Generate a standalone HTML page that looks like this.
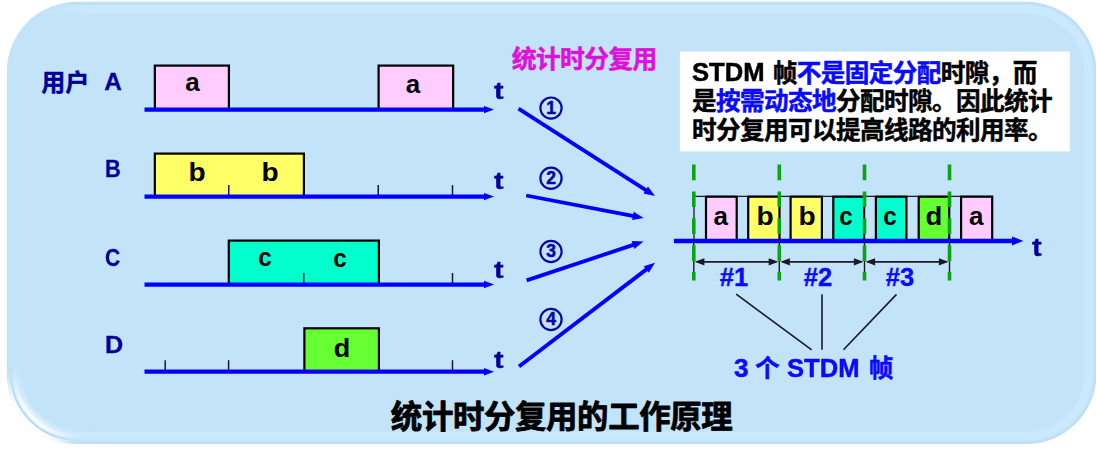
<!DOCTYPE html>
<html lang="zh"><head><meta charset="utf-8"><title>统计时分复用的工作原理</title>
<style>
html,body{margin:0;padding:0;background:#fff;}
body{width:1096px;height:464px;position:relative;overflow:hidden;font-family:"Liberation Sans",sans-serif;}
svg{position:absolute;left:0;top:0;}
svg text{font-family:"Liberation Sans","Noto Sans CJK SC",sans-serif;font-weight:bold;}
.t{position:absolute;font-weight:bold;line-height:1;white-space:pre;}
</style></head><body>
<svg width="1096" height="464" viewBox="0 0 1096 464">
<defs>
<clipPath id="pc"><rect x="6.8" y="1.8" width="1089.6000000000001" height="442.2" rx="70.0" ry="70.0" /></clipPath>
<filter id="b1" x="-5%" y="-5%" width="110%" height="110%"><feGaussianBlur stdDeviation="1.3"/></filter>
<filter id="b2" x="-5%" y="-5%" width="110%" height="110%"><feGaussianBlur stdDeviation="1.0"/></filter>
<linearGradient id="lg" x1="0" y1="0" x2="1" y2="0"><stop offset="0" stop-color="#000"/><stop offset="0.025" stop-color="#000"/><stop offset="0.09" stop-color="#fff"/><stop offset="1" stop-color="#fff"/></linearGradient>
<mask id="mband" maskUnits="userSpaceOnUse" x="0" y="0" width="1096" height="464"><rect x="0" y="0" width="1096" height="464" fill="url(#lg)"/></mask>
<radialGradient id="rg" gradientUnits="userSpaceOnUse" cx="16.8" cy="434.0" r="78"><stop offset="0" stop-color="#fff"/><stop offset="0.36" stop-color="#fff"/><stop offset="0.62" stop-color="#777"/><stop offset="0.88" stop-color="#000"/></radialGradient>
<radialGradient id="rg2" gradientUnits="userSpaceOnUse" cx="20.8" cy="430.0" r="62"><stop offset="0" stop-color="#fff"/><stop offset="0.42" stop-color="#fff"/><stop offset="0.95" stop-color="#000"/></radialGradient>
<mask id="mrim" maskUnits="userSpaceOnUse" x="0" y="0" width="1096" height="464"><rect x="0" y="0" width="200" height="464" fill="url(#rg2)"/></mask>
<filter id="b3" x="-5%" y="-5%" width="110%" height="110%"><feGaussianBlur stdDeviation="0.6"/></filter>
<mask id="mhi" maskUnits="userSpaceOnUse" x="0" y="0" width="1096" height="464"><rect x="0" y="0" width="200" height="464" fill="url(#rg)"/></mask>

</defs>

<rect x="6.8" y="1.8" width="1089.6000000000001" height="442.2" rx="70.0" ry="70.0" fill="#c2e3f8"/>
<g clip-path="url(#pc)">
<g mask="url(#mband)"><rect x="8.0" y="3.0" width="1087.2" height="439.8" rx="68.8" ry="68.8" fill="none" stroke="#a9cfee" stroke-opacity="0.22" stroke-width="3" filter="url(#b2)"/><rect x="14.399999999999999" y="9.4" width="1074.4" height="427.0" rx="62.4" ry="62.4" fill="none" stroke="#cbe9fd" stroke-width="8.6" filter="url(#b1)"/></g>
<g mask="url(#mhi)"><rect x="18.3" y="13.3" width="1066.6000000000001" height="419.2" rx="58.5" ry="58.5" fill="none" stroke="#d6eeff" stroke-width="6" filter="url(#b1)"/><rect x="11.2" y="6.2" width="1080.8" height="433.40000000000003" rx="65.6" ry="65.6" fill="none" stroke="#aed5f3" stroke-width="2.6" filter="url(#b3)"/><rect x="14.6" y="9.6" width="1074.0000000000002" height="426.59999999999997" rx="62.2" ry="62.2" fill="none" stroke="#ffffff" stroke-width="4.0" filter="url(#b2)"/></g>
<g mask="url(#mrim)"><rect x="6.8" y="1.8" width="1089.6000000000001" height="442.2" rx="70.0" ry="70.0" fill="none" stroke="#ffffff" stroke-width="6.6" filter="url(#b3)"/></g>
</g>

<rect x="679.8" y="51.6" width="390" height="99.8" fill="#ffffff"/>
<rect x="154.85" y="65.60" width="74.05" height="44.00" fill="#ffccff" stroke="#000000" stroke-width="2.2"/>
<rect x="378.60" y="65.60" width="74.55" height="44.00" fill="#ffccff" stroke="#000000" stroke-width="2.2"/>
<rect x="154.85" y="153.60" width="149.05" height="43.00" fill="#ffff66" stroke="#000000" stroke-width="2.2"/>
<rect x="228.80" y="240.60" width="150.10" height="43.95" fill="#00ffcc" stroke="#000000" stroke-width="2.2"/>
<rect x="304.40" y="328.30" width="74.50" height="43.40" fill="#66ff33" stroke="#000000" stroke-width="2.2"/>
<line x1="228.75" y1="185.1" x2="228.75" y2="196.6" stroke="#1a1a26" stroke-width="1.5"/>
<line x1="378.25" y1="185.1" x2="378.25" y2="196.6" stroke="#1a1a26" stroke-width="1.5"/>
<line x1="452.5" y1="185.1" x2="452.5" y2="196.6" stroke="#1a1a26" stroke-width="1.5"/>
<line x1="303.75" y1="273.05" x2="303.75" y2="284.55" stroke="#1a1a26" stroke-width="1.5"/>
<line x1="452.5" y1="273.05" x2="452.5" y2="284.55" stroke="#1a1a26" stroke-width="1.5"/>
<line x1="165.2" y1="360.2" x2="165.2" y2="371.7" stroke="#1a1a26" stroke-width="1.5"/>
<line x1="228.6" y1="360.2" x2="228.6" y2="371.7" stroke="#1a1a26" stroke-width="1.5"/>
<line x1="452.5" y1="360.2" x2="452.5" y2="371.7" stroke="#1a1a26" stroke-width="1.5"/>
<line x1="144.5" y1="109.6" x2="485.0" y2="109.6" stroke="#0000ff" stroke-width="4.3"/>
<polygon points="484.0,105.89999999999999 494.0,109.6 484.0,113.3" fill="#0000ff"/>
<line x1="144.5" y1="196.6" x2="485.0" y2="196.6" stroke="#0000ff" stroke-width="4.3"/>
<polygon points="484.0,192.9 494.0,196.6 484.0,200.29999999999998" fill="#0000ff"/>
<line x1="144.5" y1="284.55" x2="485.0" y2="284.55" stroke="#0000ff" stroke-width="4.3"/>
<polygon points="484.0,280.85 494.0,284.55 484.0,288.25" fill="#0000ff"/>
<line x1="144.5" y1="371.7" x2="485.0" y2="371.7" stroke="#0000ff" stroke-width="4.3"/>
<polygon points="484.0,368.0 494.0,371.7 484.0,375.4" fill="#0000ff"/>
<line x1="518.50" y1="108.70" x2="646.58" y2="190.61" stroke="#0000ff" stroke-width="3.8"/>
<polygon points="643.47,193.61 655.00,196.00 648.00,186.54" fill="#0000ff"/>
<line x1="526.20" y1="195.50" x2="633.88" y2="216.12" stroke="#0000ff" stroke-width="3.8"/>
<polygon points="632.11,220.06 643.70,218.00 633.69,211.81" fill="#0000ff"/>
<line x1="526.60" y1="280.40" x2="634.01" y2="244.66" stroke="#0000ff" stroke-width="3.8"/>
<polygon points="634.39,248.96 643.50,241.50 631.74,240.99" fill="#0000ff"/>
<line x1="519.00" y1="366.60" x2="647.05" y2="268.87" stroke="#0000ff" stroke-width="3.8"/>
<polygon points="648.80,272.81 655.00,262.80 643.71,266.14" fill="#0000ff"/>
<circle cx="551" cy="108.1" r="10.6" fill="none" stroke="#0808a2" stroke-width="2.2"/>
<circle cx="551" cy="178.3" r="10.6" fill="none" stroke="#0808a2" stroke-width="2.2"/>
<circle cx="551" cy="251.5" r="10.6" fill="none" stroke="#0808a2" stroke-width="2.2"/>
<circle cx="551" cy="319.5" r="10.6" fill="none" stroke="#0808a2" stroke-width="2.2"/>
<path d="M694 240.9 V196.4 H993" fill="none" stroke="#1a1a26" stroke-width="1.3"/>
<rect x="706.00" y="196.70" width="30.70" height="44.20" fill="#ffccff" stroke="#000000" stroke-width="2.2"/>
<rect x="748.20" y="196.70" width="31.30" height="44.20" fill="#ffff66" stroke="#000000" stroke-width="2.2"/>
<rect x="790.60" y="196.70" width="31.30" height="44.20" fill="#ffff66" stroke="#000000" stroke-width="2.2"/>
<rect x="833.30" y="196.70" width="30.80" height="44.20" fill="#00ffcc" stroke="#000000" stroke-width="2.2"/>
<rect x="875.90" y="196.70" width="30.50" height="44.20" fill="#00ffcc" stroke="#000000" stroke-width="2.2"/>
<rect x="918.70" y="196.70" width="30.50" height="44.20" fill="#66ff33" stroke="#000000" stroke-width="2.2"/>
<rect x="961.10" y="196.70" width="31.10" height="44.20" fill="#ffccff" stroke="#000000" stroke-width="2.2"/>
<line x1="673.9" y1="240.9" x2="1013.0" y2="240.9" stroke="#0000ff" stroke-width="4.5"/>
<polygon points="1012.0,236.4 1023.5,240.9 1012.0,245.4" fill="#0000ff"/>
<line x1="693.8" y1="240.9" x2="693.8" y2="273" stroke="#1a1a26" stroke-width="1.4"/>
<line x1="779.3" y1="240.9" x2="779.3" y2="273" stroke="#1a1a26" stroke-width="1.4"/>
<line x1="864.5" y1="240.9" x2="864.5" y2="273" stroke="#1a1a26" stroke-width="1.4"/>
<line x1="949.5" y1="240.9" x2="949.5" y2="273" stroke="#1a1a26" stroke-width="1.4"/>
<line x1="696.8" y1="261.8" x2="776.3" y2="261.8" stroke="#1a1a26" stroke-width="1.7"/>
<polygon points="694.8,261.8 704.4,258.2 704.4,265.40000000000003" fill="#1a1a26"/>
<polygon points="778.3,261.8 768.6999999999999,258.2 768.6999999999999,265.40000000000003" fill="#1a1a26"/>
<line x1="782.3" y1="261.8" x2="861.5" y2="261.8" stroke="#1a1a26" stroke-width="1.7"/>
<polygon points="780.3,261.8 789.9,258.2 789.9,265.40000000000003" fill="#1a1a26"/>
<polygon points="863.5,261.8 853.9,258.2 853.9,265.40000000000003" fill="#1a1a26"/>
<line x1="867.5" y1="261.8" x2="946.5" y2="261.8" stroke="#1a1a26" stroke-width="1.7"/>
<polygon points="865.5,261.8 875.1,258.2 875.1,265.40000000000003" fill="#1a1a26"/>
<polygon points="948.5,261.8 938.9,258.2 938.9,265.40000000000003" fill="#1a1a26"/>
<line x1="693.8" y1="164.5" x2="693.8" y2="280.4" stroke="#0aa514" stroke-width="3.6" stroke-dasharray="15.7 11.2"/>
<line x1="779.3" y1="164.5" x2="779.3" y2="280.4" stroke="#0aa514" stroke-width="3.6" stroke-dasharray="15.7 11.2"/>
<line x1="864.5" y1="164.5" x2="864.5" y2="280.4" stroke="#0aa514" stroke-width="3.6" stroke-dasharray="15.7 11.2"/>
<line x1="949.5" y1="164.5" x2="949.5" y2="280.4" stroke="#0aa514" stroke-width="3.6" stroke-dasharray="15.7 11.2"/>
<line x1="736.2" y1="294.2" x2="811.7" y2="349.8" stroke="#1a1a26" stroke-width="1.6"/>
<line x1="822" y1="294.2" x2="822" y2="349.8" stroke="#1a1a26" stroke-width="1.6"/>
<line x1="896.5" y1="294.4" x2="843.5" y2="349.8" stroke="#1a1a26" stroke-width="1.6"/>
<text x="755.0" y="376.6" font-size="24.6" fill="#0a0aff" stroke="#0a0aff" stroke-width="0.5" stroke-linejoin="round">个</text>
<text x="868.7" y="376.6" font-size="24.6" fill="#0a0aff" stroke="#0a0aff" stroke-width="0.5" stroke-linejoin="round">帧</text>
<text x="772.8" y="81.6" font-size="24.6" fill="#000000" stroke="#000000" stroke-width="0.5" stroke-linejoin="round">帧</text>
<text x="796.8 820.8 844.8 868.8 892.8 916.8" y="81.6" font-size="24.6" fill="#0a0aff" stroke="#0a0aff" stroke-width="0.5" stroke-linejoin="round">不是固定分配</text>
<text x="940.8 964.8 988.8 1012.8" y="81.6" font-size="24.6" fill="#000000" stroke="#000000" stroke-width="0.5" stroke-linejoin="round">时隙，而</text>
<text x="692.1" y="110.4" font-size="24.6" fill="#000000" stroke="#000000" stroke-width="0.5" stroke-linejoin="round">是</text>
<text x="716.1 740.1 764.1 788.1 812.1" y="110.4" font-size="24.6" fill="#0a0aff" stroke="#0a0aff" stroke-width="0.5" stroke-linejoin="round">按需动态地</text>
<text x="836.1 860.1 884.1 908.1 932.1 956.1 980.1 1004.1 1028.1" y="110.4" font-size="24.6" fill="#000000" stroke="#000000" stroke-width="0.5" stroke-linejoin="round">分配时隙。因此统计</text>
<text x="692.1 716.1 740.1 764.1 788.1 812.1 836.1 860.1 884.1 908.1 932.1 956.1 980.1 1004.1 1028.1" y="139.4" font-size="24.6" fill="#000000" stroke="#000000" stroke-width="0.5" stroke-linejoin="round">时分复用可以提高线路的利用率。</text>
<text x="41.13 65.33" y="90.6" font-size="24" fill="#000099" stroke="#000099" stroke-width="0.5" stroke-linejoin="round">用户</text>
<text x="511.86 535.98 560.10 584.22 608.34 632.46" y="68.2" font-size="24.8" fill="#e010dc" stroke="#e010dc" stroke-width="0.5" stroke-linejoin="round">统计时分复用</text>
<text x="390.82 421.88 452.93 483.98 515.03 546.08 577.12 608.17 639.22 670.27 701.32" y="428" font-size="31.4" fill="#000000" stroke="#000000" stroke-width="0.8" stroke-linejoin="round">统计时分复用的工作原理</text>
</svg>
<span class="t" style="left:551.00px;top:99.59px;font-size:17.5px;color:#0808a2;transform:translateX(-50%);transform-origin:center center;-webkit-text-stroke:0.5px #0808a2;">1</span>
<span class="t" style="left:551.00px;top:169.79px;font-size:17.5px;color:#0808a2;transform:translateX(-50%);transform-origin:center center;-webkit-text-stroke:0.5px #0808a2;">2</span>
<span class="t" style="left:551.00px;top:242.99px;font-size:17.5px;color:#0808a2;transform:translateX(-50%);transform-origin:center center;-webkit-text-stroke:0.5px #0808a2;">3</span>
<span class="t" style="left:551.00px;top:310.99px;font-size:17.5px;color:#0808a2;transform:translateX(-50%);transform-origin:center center;-webkit-text-stroke:0.5px #0808a2;">4</span>
<span class="t" style="left:720.65px;top:203.49px;font-size:26px;color:#000000;transform:translateX(-50%);transform-origin:center center;">a</span>
<span class="t" style="left:765.45px;top:203.49px;font-size:26px;color:#000000;transform:translateX(-50%) scaleX(1.08);transform-origin:center center;">b</span>
<span class="t" style="left:806.85px;top:203.49px;font-size:26px;color:#000000;transform:translateX(-50%) scaleX(1.08);transform-origin:center center;">b</span>
<span class="t" style="left:846.10px;top:203.49px;font-size:26px;color:#000000;transform:translateX(-50%) scaleX(0.93);transform-origin:center center;">c</span>
<span class="t" style="left:890.35px;top:203.49px;font-size:26px;color:#000000;transform:translateX(-50%) scaleX(0.93);transform-origin:center center;">c</span>
<span class="t" style="left:933.55px;top:203.49px;font-size:26px;color:#000000;transform:translateX(-50%) scaleX(1.06);transform-origin:center center;">d</span>
<span class="t" style="left:976.15px;top:203.49px;font-size:26px;color:#000000;transform:translateX(-50%);transform-origin:center center;">a</span>
<span class="t" style="left:733.80px;top:265.24px;font-size:25px;color:#0a0aff;transform:translateX(-50%) scaleX(1.02);transform-origin:center center;-webkit-text-stroke:0.4px #0a0aff;">#1</span>
<span class="t" style="left:817.60px;top:265.24px;font-size:25px;color:#0a0aff;transform:translateX(-50%) scaleX(1.02);transform-origin:center center;-webkit-text-stroke:0.4px #0a0aff;">#2</span>
<span class="t" style="left:900.00px;top:265.24px;font-size:25px;color:#0a0aff;transform:translateX(-50%) scaleX(1.02);transform-origin:center center;-webkit-text-stroke:0.4px #0a0aff;">#3</span>
<span class="t" style="left:734.00px;top:355.19px;font-size:26px;color:#0a0aff;-webkit-text-stroke:0.5px #0a0aff;">3</span>
<span class="t" style="left:787.20px;top:355.19px;font-size:26px;color:#0a0aff;transform:scaleX(0.985);transform-origin:left center;-webkit-text-stroke:0.5px #0a0aff;">STDM</span>
<span class="t" style="left:692.20px;top:59.29px;font-size:26px;color:#000000;transform:scaleX(0.985);transform-origin:left center;-webkit-text-stroke:0.5px #000000;">STDM</span>
<span class="t" style="left:104.30px;top:69.93px;font-size:24.3px;color:#000099;-webkit-text-stroke:0.3px #000099;">A</span>
<span class="t" style="left:104.70px;top:157.23px;font-size:24.3px;color:#000099;transform:scaleX(0.9);transform-origin:left center;-webkit-text-stroke:0.3px #000099;">B</span>
<span class="t" style="left:104.50px;top:245.63px;font-size:24.3px;color:#000099;transform:scaleX(0.87);transform-origin:left center;-webkit-text-stroke:0.3px #000099;">C</span>
<span class="t" style="left:104.90px;top:332.53px;font-size:24.3px;color:#000099;transform:scaleX(1.04);transform-origin:left center;-webkit-text-stroke:0.3px #000099;">D</span>
<span class="t" style="left:494.00px;top:79.83px;font-size:23px;color:#000099;transform:scaleX(1.25);transform-origin:left center;-webkit-text-stroke:0.3px #000099;">t</span>
<span class="t" style="left:494.00px;top:169.83px;font-size:23px;color:#000099;transform:scaleX(1.25);transform-origin:left center;-webkit-text-stroke:0.3px #000099;">t</span>
<span class="t" style="left:494.00px;top:259.13px;font-size:23px;color:#000099;transform:scaleX(1.25);transform-origin:left center;-webkit-text-stroke:0.3px #000099;">t</span>
<span class="t" style="left:494.00px;top:348.53px;font-size:23px;color:#000099;transform:scaleX(1.25);transform-origin:left center;-webkit-text-stroke:0.3px #000099;">t</span>
<span class="t" style="left:1032.00px;top:233.87px;font-size:26.5px;color:#000099;transform:scaleX(1.1);transform-origin:left center;-webkit-text-stroke:0.3px #000099;">t</span>
<span class="t" style="left:192.50px;top:68.89px;font-size:26px;color:#000000;transform:translateX(-50%);transform-origin:center center;">a</span>
<span class="t" style="left:413.10px;top:71.39px;font-size:26px;color:#000000;transform:translateX(-50%);transform-origin:center center;">a</span>
<span class="t" style="left:197.40px;top:158.79px;font-size:26px;color:#000000;transform:translateX(-50%) scaleX(1.08);transform-origin:center center;">b</span>
<span class="t" style="left:270.40px;top:158.79px;font-size:26px;color:#000000;transform:translateX(-50%) scaleX(1.08);transform-origin:center center;">b</span>
<span class="t" style="left:265.10px;top:243.89px;font-size:26px;color:#000000;transform:translateX(-50%) scaleX(0.93);transform-origin:center center;">c</span>
<span class="t" style="left:340.10px;top:244.69px;font-size:26px;color:#000000;transform:translateX(-50%) scaleX(0.93);transform-origin:center center;">c</span>
<span class="t" style="left:341.60px;top:335.39px;font-size:26px;color:#000000;transform:translateX(-50%) scaleX(1.04);transform-origin:center center;">d</span>
</body></html>
